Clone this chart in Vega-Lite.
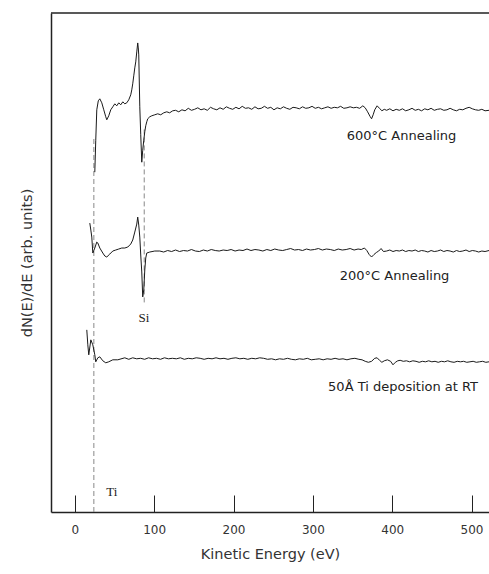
{
 "$schema": "https://vega.github.io/schema/vega-lite/v6.json",
 "autosize": {"type": "none"},
 "padding": {"left": 51, "top": 13, "right": 0, "bottom": 62},
 "width": 438,
 "height": 499,
 "background": "white",
 "config": {"view": {"stroke": null}, "font": "DejaVu Sans"},
 "datasets": {
  "spectra": [
   {"series":"600","E":25.2,"v":68.1},{"series":"600","E":26.4,"v":74.5},{"series":"600","E":27.7,"v":80.6},{"series":"600","E":29.6,"v":82.4},{"series":"600","E":31.5,"v":82.8},{"series":"600","E":34.0,"v":82.0},{"series":"600","E":36.5,"v":80.6},{"series":"600","E":39.0,"v":79.2},{"series":"600","E":40.3,"v":78.6},{"series":"600","E":42.8,"v":79.4},{"series":"600","E":45.3,"v":80.6},{"series":"600","E":47.9,"v":81.2},{"series":"600","E":50.4,"v":81.8},{"series":"600","E":52.9,"v":81.4},{"series":"600","E":55.4,"v":82.0},{"series":"600","E":57.9,"v":81.6},{"series":"600","E":60.5,"v":82.2},{"series":"600","E":63.0,"v":81.8},{"series":"600","E":65.5,"v":82.0},{"series":"600","E":68.0,"v":82.6},{"series":"600","E":70.5,"v":83.6},{"series":"600","E":71.8,"v":84.6},{"series":"600","E":73.0,"v":85.8},{"series":"600","E":74.3,"v":87.4},{"series":"600","E":75.6,"v":89.0},{"series":"600","E":76.8,"v":90.2},{"series":"600","E":78.1,"v":92.2},{"series":"600","E":79.3,"v":94.0},{"series":"600","E":80.0,"v":93.0},{"series":"600","E":80.6,"v":91.6},{"series":"600","E":81.9,"v":81.2},{"series":"600","E":83.1,"v":75.6},{"series":"600","E":84.4,"v":70.1},{"series":"600","E":85.6,"v":72.5},{"series":"600","E":86.9,"v":74.5},{"series":"600","E":88.2,"v":76.2},{"series":"600","E":89.4,"v":77.4},{"series":"600","E":90.7,"v":78.2},{"series":"600","E":91.9,"v":78.8},{"series":"600","E":94.5,"v":79.2},{"series":"600","E":97.0,"v":79.4},{"series":"600","E":100.8,"v":79.6},{"series":"600","E":104.5,"v":79.8},{"series":"600","E":108.3,"v":79.6},{"series":"600","E":112.1,"v":80.0},{"series":"600","E":115.9,"v":80.2},{"series":"600","E":119.5,"v":80.0},{"series":"600","E":123.4,"v":80.4},
   {"series":"600","E":127,"v":80.5},{"series":"600","E":131,"v":80.2},{"series":"600","E":135,"v":80.6},{"series":"600","E":139,"v":80.4},{"series":"600","E":143,"v":80.9},{"series":"600","E":147,"v":80.5},{"series":"600","E":151,"v":80.7},{"series":"600","E":155,"v":81.0},{"series":"600","E":159,"v":80.6},{"series":"600","E":163,"v":80.8},{"series":"600","E":167,"v":80.5},{"series":"600","E":171,"v":81.1},{"series":"600","E":175,"v":80.8},{"series":"600","E":179,"v":80.6},{"series":"600","E":183,"v":81.0},{"series":"600","E":187,"v":80.7},{"series":"600","E":191,"v":81.2},{"series":"600","E":195,"v":80.9},{"series":"600","E":199,"v":80.7},{"series":"600","E":203,"v":81.1},{"series":"600","E":207,"v":80.8},{"series":"600","E":211,"v":81.3},{"series":"600","E":215,"v":80.9},{"series":"600","E":219,"v":81.0},{"series":"600","E":223,"v":80.7},{"series":"600","E":227,"v":81.2},{"series":"600","E":231,"v":80.8},{"series":"600","E":235,"v":80.9},{"series":"600","E":239,"v":81.3},{"series":"600","E":243,"v":80.9},{"series":"600","E":247,"v":81.1},{"series":"600","E":251,"v":80.6},{"series":"600","E":255,"v":81.0},{"series":"600","E":259,"v":80.8},{"series":"600","E":263,"v":81.2},{"series":"600","E":267,"v":80.9},{"series":"600","E":271,"v":80.7},{"series":"600","E":275,"v":81.1},{"series":"600","E":279,"v":81.0},{"series":"600","E":283,"v":80.8},{"series":"600","E":287,"v":81.2},{"series":"600","E":291,"v":80.9},{"series":"600","E":295,"v":81.0},{"series":"600","E":299,"v":81.3},{"series":"600","E":303,"v":80.9},{"series":"600","E":307,"v":81.1},{"series":"600","E":311,"v":80.8},{"series":"600","E":315,"v":81.0},{"series":"600","E":319,"v":81.2},{"series":"600","E":323,"v":80.9},{"series":"600","E":327,"v":81.1},{"series":"600","E":331,"v":81.0},{"series":"600","E":335,"v":81.3},{"series":"600","E":339,"v":80.9},{"series":"600","E":343,"v":81.0},{"series":"600","E":347,"v":81.2},{"series":"600","E":351,"v":81.0},{"series":"600","E":355,"v":81.1},{"series":"600","E":359,"v":80.9},{"series":"600","E":363,"v":81.4},{"series":"600","E":366,"v":81.0},{"series":"600","E":369,"v":80.2},{"series":"600","E":372,"v":79.3},{"series":"600","E":374,"v":78.8},{"series":"600","E":376,"v":79.6},{"series":"600","E":378,"v":80.6},{"series":"600","E":381,"v":81.4},{"series":"600","E":384,"v":80.9},{"series":"600","E":387,"v":80.4},{"series":"600","E":390,"v":80.7},{"series":"600","E":393,"v":80.5},{"series":"600","E":397,"v":80.8},{"series":"600","E":401,"v":80.4},{"series":"600","E":405,"v":80.7},{"series":"600","E":409,"v":80.5},{"series":"600","E":413,"v":80.8},{"series":"600","E":417,"v":80.4},{"series":"600","E":421,"v":80.6},{"series":"600","E":425,"v":80.9},{"series":"600","E":429,"v":80.5},{"series":"600","E":433,"v":80.7},{"series":"600","E":437,"v":80.4},{"series":"600","E":441,"v":80.8},{"series":"600","E":445,"v":80.6},{"series":"600","E":449,"v":80.9},{"series":"600","E":453,"v":80.5},{"series":"600","E":457,"v":80.7},{"series":"600","E":461,"v":80.8},{"series":"600","E":465,"v":80.5},{"series":"600","E":469,"v":80.6},{"series":"600","E":473,"v":80.9},{"series":"600","E":477,"v":80.6},{"series":"600","E":481,"v":80.4},{"series":"600","E":485,"v":80.7},{"series":"600","E":489,"v":80.6},{"series":"600","E":493,"v":80.9},{"series":"600","E":497,"v":81.1},{"series":"600","E":501,"v":80.8},{"series":"600","E":505,"v":80.6},{"series":"600","E":509,"v":80.5},{"series":"600","E":513,"v":80.7},{"series":"600","E":517,"v":80.4},{"series":"600","E":522,"v":80.5},
   {"series":"200","E":18.9,"v":57.9},{"series":"200","E":20.2,"v":56.5},{"series":"200","E":21.4,"v":55.1},{"series":"200","E":22.7,"v":51.9},{"series":"200","E":25.2,"v":52.9},{"series":"200","E":27.7,"v":54.1},{"series":"200","E":29.0,"v":53.9},{"series":"200","E":31.5,"v":52.9},{"series":"200","E":35.3,"v":51.9},{"series":"200","E":37.8,"v":51.3},{"series":"200","E":40.3,"v":51.1},{"series":"200","E":44.1,"v":51.7},{"series":"200","E":47.9,"v":52.3},{"series":"200","E":51.6,"v":52.5},{"series":"200","E":55.4,"v":52.7},{"series":"200","E":59.2,"v":52.9},{"series":"200","E":63.0,"v":52.9},{"series":"200","E":66.8,"v":53.1},{"series":"200","E":70.5,"v":53.7},{"series":"200","E":73.0,"v":54.5},{"series":"200","E":75.6,"v":56.1},{"series":"200","E":78.1,"v":57.7},{"series":"200","E":79.3,"v":59.1},{"series":"200","E":80.6,"v":57.5},{"series":"200","E":81.9,"v":55.1},{"series":"200","E":83.1,"v":51.5},{"series":"200","E":84.4,"v":48.1},{"series":"200","E":85.6,"v":43.1},{"series":"200","E":86.9,"v":44.5},{"series":"200","E":88.2,"v":48.5},{"series":"200","E":89.4,"v":50.9},{"series":"200","E":90.7,"v":51.9},{"series":"200","E":94.5,"v":52.1},{"series":"200","E":100.8,"v":52.3},{"series":"200","E":107.1,"v":52.3},
   {"series":"200","E":112,"v":52.1},{"series":"200","E":117,"v":52.4},{"series":"200","E":122,"v":52.2},{"series":"200","E":127,"v":52.5},{"series":"200","E":132,"v":52.2},{"series":"200","E":137,"v":52.4},{"series":"200","E":142,"v":52.3},{"series":"200","E":147,"v":52.6},{"series":"200","E":152,"v":52.3},{"series":"200","E":157,"v":52.2},{"series":"200","E":162,"v":52.5},{"series":"200","E":167,"v":52.3},{"series":"200","E":172,"v":52.6},{"series":"200","E":177,"v":52.4},{"series":"200","E":182,"v":52.3},{"series":"200","E":187,"v":52.5},{"series":"200","E":192,"v":52.4},{"series":"200","E":197,"v":52.6},{"series":"200","E":202,"v":52.3},{"series":"200","E":207,"v":52.5},{"series":"200","E":212,"v":52.4},{"series":"200","E":217,"v":52.7},{"series":"200","E":222,"v":52.4},{"series":"200","E":227,"v":52.6},{"series":"200","E":232,"v":52.5},{"series":"200","E":237,"v":52.3},{"series":"200","E":242,"v":52.6},{"series":"200","E":247,"v":52.4},{"series":"200","E":252,"v":52.7},{"series":"200","E":257,"v":52.5},{"series":"200","E":262,"v":52.4},{"series":"200","E":267,"v":52.6},{"series":"200","E":272,"v":52.8},{"series":"200","E":277,"v":52.5},{"series":"200","E":282,"v":52.6},{"series":"200","E":287,"v":52.4},{"series":"200","E":292,"v":52.7},{"series":"200","E":297,"v":52.5},{"series":"200","E":302,"v":52.6},{"series":"200","E":307,"v":52.8},{"series":"200","E":312,"v":52.5},{"series":"200","E":317,"v":52.7},{"series":"200","E":322,"v":52.6},{"series":"200","E":327,"v":52.4},{"series":"200","E":332,"v":52.7},{"series":"200","E":337,"v":52.5},{"series":"200","E":342,"v":52.6},{"series":"200","E":347,"v":52.8},{"series":"200","E":352,"v":52.5},{"series":"200","E":357,"v":52.7},{"series":"200","E":361,"v":52.6},{"series":"200","E":365,"v":52.9},{"series":"200","E":368,"v":52.4},{"series":"200","E":371,"v":51.6},{"series":"200","E":374,"v":51.1},{"series":"200","E":377,"v":51.6},{"series":"200","E":380,"v":52.0},{"series":"200","E":383,"v":52.3},{"series":"200","E":386,"v":52.8},{"series":"200","E":389,"v":52.2},{"series":"200","E":393,"v":52.3},{"series":"200","E":397,"v":52.5},{"series":"200","E":401,"v":52.2},{"series":"200","E":405,"v":52.4},{"series":"200","E":409,"v":52.3},{"series":"200","E":413,"v":52.5},{"series":"200","E":417,"v":52.2},{"series":"200","E":421,"v":52.4},{"series":"200","E":425,"v":52.3},{"series":"200","E":429,"v":52.5},{"series":"200","E":433,"v":52.2},{"series":"200","E":437,"v":52.4},{"series":"200","E":441,"v":52.3},{"series":"200","E":445,"v":52.1},{"series":"200","E":449,"v":52.4},{"series":"200","E":453,"v":52.2},{"series":"200","E":457,"v":52.3},{"series":"200","E":461,"v":52.5},{"series":"200","E":465,"v":52.2},{"series":"200","E":469,"v":52.4},{"series":"200","E":473,"v":52.3},{"series":"200","E":477,"v":52.1},{"series":"200","E":481,"v":52.4},{"series":"200","E":485,"v":52.2},{"series":"200","E":489,"v":52.3},{"series":"200","E":493,"v":52.5},{"series":"200","E":497,"v":52.2},{"series":"200","E":501,"v":52.4},{"series":"200","E":505,"v":52.3},{"series":"200","E":509,"v":52.1},{"series":"200","E":513,"v":52.3},{"series":"200","E":517,"v":52.2},{"series":"200","E":522,"v":52.4},
   {"series":"Ti","E":15.1,"v":36.5},{"series":"Ti","E":16.4,"v":33.5},{"series":"Ti","E":17.6,"v":31.5},{"series":"Ti","E":20.2,"v":34.5},{"series":"Ti","E":22.7,"v":33.5},{"series":"Ti","E":25.2,"v":31.5},{"series":"Ti","E":26.4,"v":30.1},{"series":"Ti","E":29.0,"v":30.9},{"series":"Ti","E":31.5,"v":31.1},{"series":"Ti","E":35.3,"v":30.3},{"series":"Ti","E":39.0,"v":29.9},{"series":"Ti","E":42.8,"v":30.1},{"series":"Ti","E":47.9,"v":30.5},{"series":"Ti","E":54.2,"v":30.5},{"series":"Ti","E":63.0,"v":30.9},
   {"series":"Ti","E":68,"v":30.6},{"series":"Ti","E":73,"v":30.9},{"series":"Ti","E":78,"v":30.7},{"series":"Ti","E":83,"v":30.8},{"series":"Ti","E":88,"v":30.6},{"series":"Ti","E":93,"v":30.9},{"series":"Ti","E":98,"v":30.7},{"series":"Ti","E":103,"v":30.8},{"series":"Ti","E":108,"v":30.6},{"series":"Ti","E":113,"v":30.9},{"series":"Ti","E":118,"v":30.7},{"series":"Ti","E":123,"v":30.8},{"series":"Ti","E":128,"v":30.7},{"series":"Ti","E":133,"v":30.9},{"series":"Ti","E":138,"v":30.6},{"series":"Ti","E":143,"v":30.8},{"series":"Ti","E":148,"v":30.7},{"series":"Ti","E":153,"v":30.9},{"series":"Ti","E":158,"v":30.8},{"series":"Ti","E":163,"v":30.6},{"series":"Ti","E":168,"v":30.8},{"series":"Ti","E":173,"v":30.7},{"series":"Ti","E":178,"v":30.9},{"series":"Ti","E":183,"v":30.7},{"series":"Ti","E":188,"v":30.8},{"series":"Ti","E":193,"v":30.6},{"series":"Ti","E":198,"v":30.8},{"series":"Ti","E":203,"v":30.9},{"series":"Ti","E":208,"v":30.7},{"series":"Ti","E":213,"v":30.8},{"series":"Ti","E":218,"v":30.6},{"series":"Ti","E":223,"v":30.8},{"series":"Ti","E":228,"v":30.7},{"series":"Ti","E":233,"v":30.9},{"series":"Ti","E":238,"v":30.8},{"series":"Ti","E":243,"v":30.6},{"series":"Ti","E":248,"v":30.7},{"series":"Ti","E":253,"v":30.5},{"series":"Ti","E":258,"v":30.7},{"series":"Ti","E":263,"v":30.6},{"series":"Ti","E":268,"v":30.8},{"series":"Ti","E":273,"v":30.6},{"series":"Ti","E":278,"v":30.5},{"series":"Ti","E":283,"v":30.7},{"series":"Ti","E":288,"v":30.6},{"series":"Ti","E":293,"v":30.8},{"series":"Ti","E":298,"v":30.5},{"series":"Ti","E":303,"v":30.6},{"series":"Ti","E":308,"v":30.7},{"series":"Ti","E":313,"v":30.5},{"series":"Ti","E":318,"v":30.7},{"series":"Ti","E":323,"v":30.6},{"series":"Ti","E":328,"v":30.8},{"series":"Ti","E":333,"v":30.6},{"series":"Ti","E":338,"v":30.7},{"series":"Ti","E":343,"v":30.5},{"series":"Ti","E":348,"v":30.7},{"series":"Ti","E":353,"v":30.8},{"series":"Ti","E":358,"v":30.6},{"series":"Ti","E":362,"v":30.5},{"series":"Ti","E":366,"v":30.2},{"series":"Ti","E":370,"v":30.0},{"series":"Ti","E":374,"v":30.2},{"series":"Ti","E":378,"v":30.8},{"series":"Ti","E":381,"v":30.9},{"series":"Ti","E":384,"v":30.4},{"series":"Ti","E":387,"v":30.0},{"series":"Ti","E":390,"v":30.3},{"series":"Ti","E":394,"v":30.5},{"series":"Ti","E":398,"v":30.2},{"series":"Ti","E":401,"v":29.5},{"series":"Ti","E":404,"v":30.0},{"series":"Ti","E":407,"v":30.3},{"series":"Ti","E":410,"v":30.4},{"series":"Ti","E":414,"v":30.2},{"series":"Ti","E":418,"v":30.3},{"series":"Ti","E":422,"v":30.1},{"series":"Ti","E":426,"v":30.3},{"series":"Ti","E":430,"v":30.2},{"series":"Ti","E":434,"v":30.0},{"series":"Ti","E":438,"v":30.2},{"series":"Ti","E":442,"v":30.1},{"series":"Ti","E":446,"v":30.3},{"series":"Ti","E":450,"v":30.1},{"series":"Ti","E":454,"v":30.2},{"series":"Ti","E":458,"v":30.0},{"series":"Ti","E":462,"v":30.2},{"series":"Ti","E":466,"v":30.1},{"series":"Ti","E":470,"v":30.3},{"series":"Ti","E":474,"v":30.1},{"series":"Ti","E":478,"v":30.0},{"series":"Ti","E":482,"v":30.2},{"series":"Ti","E":486,"v":30.1},{"series":"Ti","E":490,"v":30.2},{"series":"Ti","E":494,"v":30.0},{"series":"Ti","E":498,"v":30.1},{"series":"Ti","E":502,"v":30.2},{"series":"Ti","E":506,"v":30.0},{"series":"Ti","E":510,"v":30.1},{"series":"Ti","E":514,"v":30.2},{"series":"Ti","E":518,"v":30.0},{"series":"Ti","E":522,"v":30.1}
  ],
  "markers": [
   {"E": 24, "v0": 0, "v1": 75},
   {"E": 87.5, "v0": 42, "v1": 77}
  ],
  "frame": [
   {"v": 100}
  ],
  "labels": [
   {"E": 411.8, "v": 75.4, "text": "600°C Annealing"},
   {"E": 403, "v": 47.3, "text": "200°C Annealing"},
   {"E": 413.7, "v": 25.0, "text": "50Å Ti deposition at RT"}
  ],
  "elements": [
   {"E": 87, "v": 38.9, "text": "Si"},
   {"E": 46.6, "v": 4.0, "text": "Ti"}
  ]
 },
 "layer": [
  {
   "data": {"name": "markers"},
   "mark": {"type": "rule", "color": "#888", "strokeWidth": 1, "strokeDash": [5, 3]},
   "encoding": {
    "x": {"field": "E", "type": "quantitative", "scale": {"domain": [-30, 522], "nice": false, "zero": false}},
    "y": {"field": "v0", "type": "quantitative", "scale": {"domain": [0, 100], "nice": false}},
    "y2": {"field": "v1"}
   }
  },
  {
   "data": {"name": "spectra"},
   "mark": {"type": "line", "color": "#1a1a1a", "strokeWidth": 1, "clip": true},
   "encoding": {
    "x": {"field": "E", "type": "quantitative", "scale": {"domain": [-30, 522], "nice": false, "zero": false},
      "axis": {"title": "Kinetic Energy (eV)", "values": [0, 100, 200, 300, 400, 500], "grid": false,
        "tickSize": -17, "tickColor": "#222", "tickWidth": 1, "domainColor": "#222", "domainWidth": 1.5,
        "labelFont": "DejaVu Sans", "labelFontSize": 12, "labelColor": "#333", "labelPadding": 29,
        "titleFont": "DejaVu Sans", "titleFontSize": 14.5, "titleFontWeight": "normal", "titleColor": "#333", "titlePadding": 12}},
    "y": {"field": "v", "type": "quantitative", "scale": {"domain": [0, 100], "nice": false},
      "axis": {"title": "dN(E)/dE (arb. units)", "ticks": false, "labels": false, "grid": false,
        "domainColor": "#222", "domainWidth": 1.5,
        "titleFont": "DejaVu Sans", "titleFontSize": 14.5, "titleFontWeight": "normal", "titleColor": "#333", "titlePadding": 17}},
    "detail": {"field": "series"}
   }
  },
  {
   "data": {"name": "frame"},
   "mark": {"type": "rule", "color": "#222", "strokeWidth": 1.5},
   "encoding": {"y": {"field": "v", "type": "quantitative"}}
  },
  {
   "data": {"name": "labels"},
   "mark": {"type": "text", "font": "DejaVu Sans", "fontSize": 13, "color": "#222", "align": "center", "baseline": "middle"},
   "encoding": {
    "x": {"field": "E", "type": "quantitative"},
    "y": {"field": "v", "type": "quantitative"},
    "text": {"field": "text"}
   }
  },
  {
   "data": {"name": "elements"},
   "mark": {"type": "text", "font": "Liberation Serif", "fontSize": 13, "color": "#222", "align": "center", "baseline": "middle"},
   "encoding": {
    "x": {"field": "E", "type": "quantitative"},
    "y": {"field": "v", "type": "quantitative"},
    "text": {"field": "text"}
   }
  }
 ]
}
